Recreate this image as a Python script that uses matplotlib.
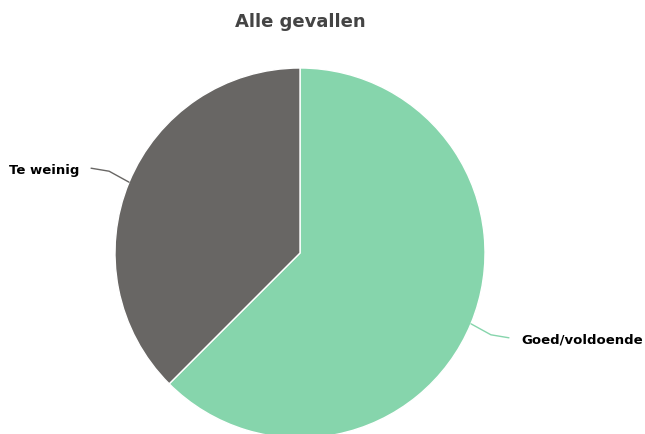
import matplotlib
matplotlib.use('Agg')
import matplotlib.pyplot as plt
import numpy as np

# data
labels = ['Goed/voldoende', 'Te weinig']
values = [62.5, 37.5]
colors = ['#86d5ac', '#686664']
title = 'Alle gevallen'

W, H = 645, 434
fig = plt.figure(figsize=(W / 100, H / 100), dpi=100)
ax = fig.add_axes([0, 0, 1, 1])

cx, cy, r = 300, H - 253, 185
wedges, _ = ax.pie(values, colors=colors, startangle=90, counterclock=False,
                   center=(cx, cy), radius=r,
                   wedgeprops=dict(edgecolor='white', linewidth=1))
ax.set_xlim(0, W)
ax.set_ylim(0, H)
ax.set_aspect('equal')
ax.axis('off')

# connectors and labels
for w, lab, col in zip(wedges, labels, colors):
    ang = np.deg2rad((w.theta1 + w.theta2) / 2)
    x0, y0 = cx + r * np.cos(ang), cy + r * np.sin(ang)
    side = 1 if np.cos(ang) > 0 else -1
    up = np.sign(np.sin(ang))
    xs = [x0, x0 + side * 20, x0 + side * 38]
    ys = [y0, y0 + up * 11, y0 + up * 14]
    ax.plot(xs, ys, color=col, lw=1, solid_capstyle='round')
    ax.text(xs[-1] + side * 12, ys[-1] - 2.5, lab,
            ha='left' if side > 0 else 'right',
            va='center', fontsize=9.5, fontweight='bold', color='black')

fig.text(cx / W, 1 - 22 / H, title, ha='center', va='center',
         fontsize=13, fontweight='bold', color='#444444')

fig.savefig('out.png', dpi=100)
